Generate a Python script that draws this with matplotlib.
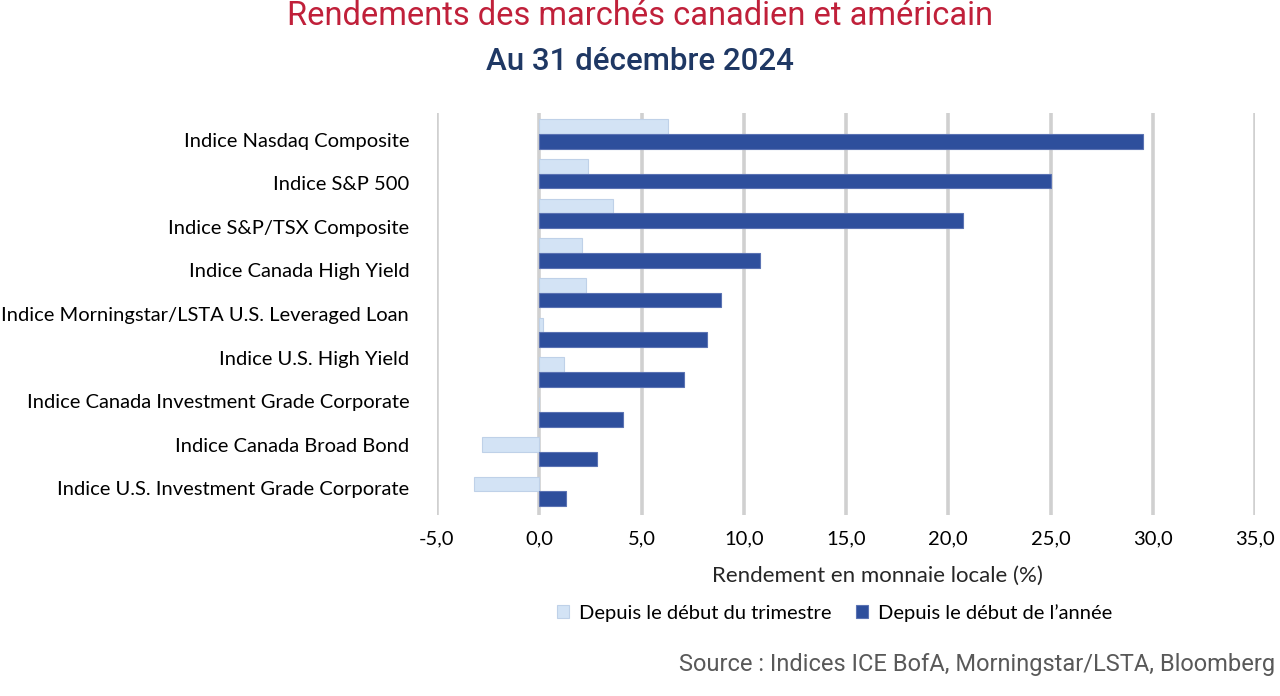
import matplotlib.pyplot as plt
import numpy as np

# data (10 bar pairs, 9 labels shown in the original)
labels = ['Indice Nasdaq Composite', 'Indice S&P 500', 'Indice S&P/TSX Composite',
          'Indice Canada High Yield', 'Indice Morningstar/LSTA U.S. Leveraged Loan',
          'Indice U.S. High Yield', 'Indice Canada Investment Grade Corporate',
          'Indice Canada Broad Bond', 'Indice U.S. Investment Grade Corporate']
qtd = [6.3, 2.4, 3.6, 2.1, 2.3, 0.2, 1.2, 0.0, -2.8, -3.2]
ytd = [29.5, 25.0, 20.7, 10.8, 8.9, 8.2, 7.1, 4.1, 2.8, 1.3]
xticks = [-5, 0, 5, 10, 15, 20, 25, 30, 35]

light = '#d3e3f5'
dark = '#2e4f9c'

fig = plt.figure(figsize=(12.8, 6.96), dpi=100)
ax = fig.add_axes([437/1280, 1 - 515/696, (1255-437)/1280, (515-113)/696])

y = np.arange(len(qtd))
h = 0.37
ax.barh(y - h/2, qtd, height=h, color=light, edgecolor='#bfd1e8', linewidth=0.8,
        label='Depuis le début du trimestre', zorder=3)
ax.barh(y + h/2, ytd, height=h, color=dark, edgecolor='#5b73b3', linewidth=0.8,
        label='Depuis le début de l\u2019année', zorder=3)

ax.set_xlim(-5, 35)
ax.set_ylim(9.6, -0.53)
ax.set_xticks(xticks)
ax.set_xticklabels([f'{v:.1f}'.replace('.', ',') for v in xticks],
                   fontsize=14.5, family='Lato', color='#000000')
ax.set_yticks(np.linspace(0.15, 8.92, len(labels)))
ax.set_yticklabels(labels, fontsize=14.5, family='Lato', color='#000000')
ax.tick_params(axis='both', length=0)
ax.tick_params(axis='y', pad=20)
ax.tick_params(axis='x', pad=11)
ax.grid(axis='x', color='#d0d0d0', linewidth=2.6, zorder=0)
for s in ax.spines.values():
    s.set_visible(False)

ax.set_xlabel('Rendement en monnaie locale (%)', fontsize=16, family='Lato',
              color='#262626')
ax.xaxis.set_label_coords(0.538, -0.127)

fig.legend(loc='center', bbox_to_anchor=(0.652, 1 - 613/696), ncol=2, frameon=False,
           prop={'family': 'Lato', 'size': 14.5}, handlelength=0.6, handleheight=0.6,
           columnspacing=1.2, handletextpad=0.5)

fig.text(0.5, 1 - 16/696, 'Rendements des marchés canadien et américain', ha='center',
         va='center', fontsize=23.5, color='#c0203a', family='Roboto')
fig.text(0.5, 1 - 62/696, 'Au 31 décembre 2024', ha='center', va='center',
         fontsize=22.5, color='#1f3864', family='Roboto', weight='medium')
fig.text(1275/1280, 1 - 664/696, 'Source : Indices ICE BofA, Morningstar/LSTA, Bloomberg',
         ha='right', va='center', fontsize=17, color='#595959', family='Roboto')

fig.savefig('out.png', dpi=100)
